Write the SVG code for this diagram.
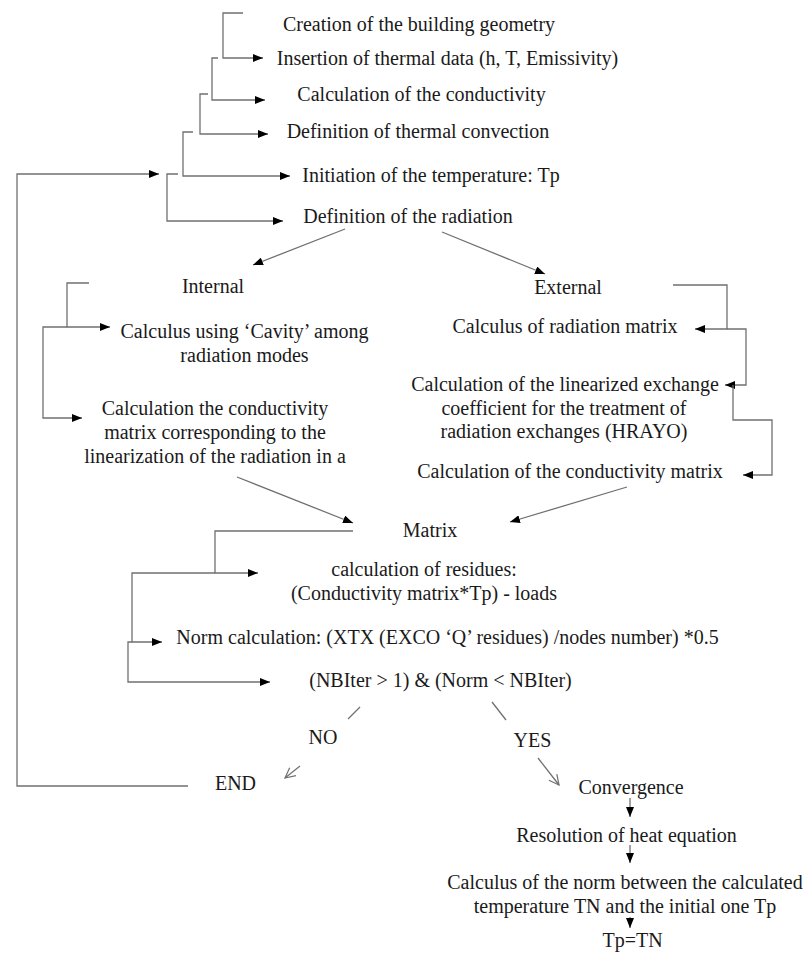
<svg xmlns="http://www.w3.org/2000/svg" width="808" height="954" viewBox="0 0 808 954">
<style>
.t{font-family:"Liberation Serif","Times New Roman",serif;font-size:20px;fill:#1a1a1a;text-anchor:middle}
.c{fill:none;stroke:#707070;stroke-width:1.3}
.a{marker-end:url(#ah)}
.o{marker-end:url(#oh)}
</style>
<defs>
<marker id="ah" viewBox="0 0 10 8" markerWidth="10" markerHeight="8" refX="10" refY="4" orient="auto" markerUnits="userSpaceOnUse"><path d="M0,0 L10,4 L0,8 z" fill="#000"/></marker>
<marker id="oh" viewBox="0 0 12 12" markerWidth="12" markerHeight="12" refX="11" refY="6" orient="auto" markerUnits="userSpaceOnUse"><path d="M1,1 L11,6 L1,11" fill="none" stroke="#707070" stroke-width="1.2"/></marker>
</defs>
<rect width="808" height="954" fill="#fff"/>
<g id="connectors">
<path class="c a" d="M243,13 H223 V58 H263"/>
<path class="c a" d="M218,58 H212 V100 H265"/>
<path class="c a" d="M208,94 H200 V134 H268"/>
<path class="c a" d="M193,132 H183 V176 H290"/>
<path class="c a" d="M178,174 H167 V221 H283"/>
<path class="c a" d="M188,786 H17 V174 H159"/>
<path class="c a" d="M345,229 L253,265"/>
<path class="c a" d="M442,232 L545,274"/>
<path class="c a" d="M89,283 H67 V327 H110"/>
<path class="c a" d="M67,327 H43 V418 H82"/>
<path class="c a" d="M673,285 H727 V329 H695"/>
<path class="c a" d="M727,329 H746 V385 H725"/>
<path class="c a" d="M733,385 V420 H772 V475 H743"/>
<path class="c a" d="M237,477 L353,523"/>
<path class="c a" d="M627,487 L510,522"/>
<path class="c a" d="M353,531 H215 V573 H258"/>
<path class="c a" d="M215,573 H132 V642 H162"/>
<path class="c a" d="M132,642 H128 V682 H270"/>
<path class="c" d="M360,707 L348,719"/>
<path class="c o" d="M300,766 L285,778"/>
<path class="c" d="M492,702 L506,720"/>
<path class="c o" d="M538,758 L559,785"/>
<path class="c a" d="M630,798 V817"/>
<path class="c a" d="M630,845 V863"/>
<path class="c a" d="M630,917 V928"/>
</g>
<g id="n-creation"><text class="t" x="419" y="31">Creation of the building geometry</text></g>
<g id="n-insertion"><text class="t" x="447.5" y="65">Insertion of thermal data (h, T, Emissivity)</text></g>
<g id="n-conductivity"><text class="t" x="421.5" y="101">Calculation of the conductivity</text></g>
<g id="n-convection"><text class="t" x="418" y="138">Definition of thermal convection</text></g>
<g id="n-initiation"><text class="t" x="431" y="182">Initiation of the temperature:  Tp</text></g>
<g id="n-radiation"><text class="t" x="408" y="223">Definition of the radiation</text></g>
<g id="n-internal"><text class="t" x="213" y="293">Internal</text></g>
<g id="n-external"><text class="t" x="568" y="294">External</text></g>
<g id="n-cavity"><text class="t" x="244.5" y="338">Calculus using ‘Cavity’ among</text><text class="t" x="244.5" y="362">radiation modes</text></g>
<g id="n-condmatrix-int"><text class="t" x="215" y="415">Calculation the conductivity</text><text class="t" x="215" y="439">matrix corresponding to the</text><text class="t" x="215" y="463">linearization of the radiation in a</text></g>
<g id="n-radmatrix"><text class="t" x="565" y="333">Calculus of radiation matrix</text></g>
<g id="n-hrayo"><text class="t" x="565" y="391">Calculation of the linearized exchange</text><text class="t" x="564" y="415">coefficient for the treatment of</text><text class="t" x="564" y="438">radiation exchanges (HRAYO)</text></g>
<g id="n-condmatrix-ext"><text class="t" x="570" y="478">Calculation of the conductivity matrix</text></g>
<g id="n-matrix"><text class="t" x="430" y="537">Matrix</text></g>
<g id="n-residues"><text class="t" x="424" y="576">calculation of residues:</text><text class="t" x="424" y="600">(Conductivity matrix*Tp) - loads</text></g>
<g id="n-norm"><text class="t" x="447.5" y="644">Norm calculation: (XTX (EXCO ‘Q’ residues) /nodes number) *0.5</text></g>
<g id="n-test"><text class="t" x="440.5" y="687">(NBIter &gt; 1) &amp; (Norm &lt; NBIter)</text></g>
<g id="n-no"><text class="t" x="323" y="744">NO</text></g>
<g id="n-yes"><text class="t" x="532.5" y="747">YES</text></g>
<g id="n-end"><text class="t" x="235.5" y="790">END</text></g>
<g id="n-convergence"><text class="t" x="631" y="794">Convergence</text></g>
<g id="n-resolution"><text class="t" x="626.5" y="842">Resolution of heat equation</text></g>
<g id="n-calcnorm"><text class="t" x="625" y="889">Calculus of the norm between the calculated</text><text class="t" x="625" y="913">temperature TN and the initial one Tp</text></g>
<g id="n-tptn"><text class="t" x="632.5" y="947">Tp=TN</text></g>
</svg>
